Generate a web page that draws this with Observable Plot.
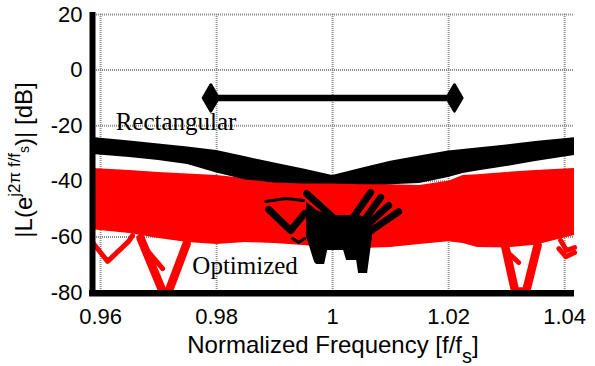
<!DOCTYPE html>
<html><head><meta charset="utf-8">
<script src="https://cdn.jsdelivr.net/npm/d3@7"></script>
<script src="https://cdn.jsdelivr.net/npm/@observablehq/plot@0.6"></script>
<style>html,body{margin:0;padding:0;background:#fff;}</style>
</head><body><div id="chart"></div>
<script>
// ---- axis ticks ----
const xTicks = [0.96, 0.98, 1.0, 1.02, 1.04];
const xTickLabels = ["0.96", "0.98", "1", "1.02", "1.04"];
const yTicks = [20, 0, -20, -40, -60, -80];
const yTickLabels = ["20", "0", "-20", "-40", "-60", "-80"];

// ---- band envelopes (normalized frequency, dB) ----
const freq       = [0.9586, 0.965, 0.97, 0.975, 0.98, 0.985, 0.99, 0.995, 1.0, 1.005, 1.01, 1.015, 1.02, 1.0225, 1.025, 1.03, 1.035, 1.0417];
const rectTop    = [-24.2, -25.5, -26.6, -27.7, -28.9, -31.2, -33.4, -35.6, -37.9, -35.3, -32.8, -30.9, -29.1, -28.6, -28.0, -26.9, -25.7, -24.3];
const rectBottom = [-30.4, -31.4, -32.5, -34.0, -37.0, -39.5, -40.6, -41.0, -41.0, -41.2, -41.2, -40.8, -38.6, -37.2, -36.3, -34.7, -32.9, -30.7];
const optTop     = [-35.4, -36.1, -36.8, -37.4, -37.9, -39.0, -40.0, -40.3, -40.5, -40.8, -41.2, -41.5, -40.0, -37.9, -37.6, -36.8, -36.1, -35.4];
const optBottom  = [-57.4, -58.8, -60.6, -62.0, -62.7, -62.0, -62.4, -63.1, -64.2, -64.2, -63.8, -62.7, -61.7, -62.4, -63.8, -64.0, -63.0, -59.5];

// ---- optimized: deep notches ----
const optWideId = ["d2","d2","d2","d2","d3","d3","d3","d3"];
const optWideF  = [0.9669, 0.97069, 0.97172, 0.97483, 1.02966, 1.03147, 1.03336, 1.03534];
const optWideDb = [-60.5, -79.6, -79.6, -62.5, -62.5, -79.6, -79.6, -63.0];
const optThinId = ["d1","d1","d1","d1","t1","t1","t2","t2","t3","t3","t3","t4","t4","t4"];
const optThinF  = [0.95862, 0.96121, 0.96483, 0.9655, 0.96776, 0.97069, 1.02983, 1.03207, 1.03931, 1.04034, 1.04172, 1.0390, 1.0402, 1.04172];
const optThinDb = [-62.0, -68.8, -61.6, -59.5, -64.2, -71.4, -64.9, -69.2, -61.3, -64.9, -63.8, -64.2, -67.1, -65.6];

// ---- rectangular: central nulls ----
const rectMassF      = [0.99552, 0.99690, 0.99724, 0.99862, 0.99914, 1.00017, 1.0019, 1.00241, 1.00414, 1.00448, 1.00603, 1.00690];
const rectMassTop    = [-47.5, -49.8, -50.5, -51.6, -51.6, -52.3, -52.3, -52.3, -52.3, -52.3, -53.0, -53.0];
const rectMassBottom = [-60.0, -69.2, -69.9, -69.9, -64.9, -64.9, -64.9, -68.5, -68.5, -73.2, -73.2, -59.5];
const rectArmId = ["a1","a1","a2","a2","a3","a3","a4","a4","a5","a5","v1","v1","v1"];
const rectArmF  = [0.99552, 1.00069, 1.00655, 1.00259, 1.00828, 1.00517, 1.00966, 1.00586, 1.01138, 1.00621, 0.98897, 0.99276, 0.99517];
const rectArmDb = [-44.4, -54.1, -44.0, -55.9, -45.8, -54.8, -48.7, -55.9, -50.9, -58.4, -50.1, -57.7, -51.6];
const rectThinId = ["arc","arc","arc","w","w","w"];
const rectThinF  = [0.98845, 0.99190, 0.99500, 0.99310, 0.99414, 0.99517];
const rectThinDb = [-47.3, -46.2, -46.9, -60.6, -62.0, -60.6];

// ---- marker bar and annotations ----
const markerF  = [0.979, 1.021];
const markerDb = [-10, -10];
const annotText = ["Rectangular", "Optimized"];
const annotF    = [0.96259, 0.97581];
const annotDb   = [-21.7, -73.2];

// ---- tables ----
const bands = freq.map((f, i) => ({f, rt: rectTop[i], rb: rectBottom[i], ot: optTop[i], ob: optBottom[i]}));
const rows = (ids, fs, ds) => fs.map((f, i) => ({id: ids[i], f, db: ds[i]}));
const optWide = rows(optWideId, optWideF, optWideDb);
const optThin = rows(optThinId, optThinF, optThinDb);
const rectArms = rows(rectArmId, rectArmF, rectArmDb);
const rectThin = rows(rectThinId, rectThinF, rectThinDb);
const rectMass = rectMassF.map((f, i) => ({f, t: rectMassTop[i], b: rectMassBottom[i]}));
const marker = markerF.map((f, i) => ({f, db: markerDb[i]}));
const annots = annotText.map((t, i) => ({t, f: annotF[i], db: annotDb[i]}));

const RED = "#ff0000";
const gridStyle = {stroke: "#8c8c8c", strokeOpacity: 1, strokeWidth: 2, strokeDasharray: "1,1"};
const sans = "'Liberation Sans', Arial, Helvetica, sans-serif";
const serif = "'Liberation Serif', 'Times New Roman', serif";

const chart = Plot.plot({
  width: 595, height: 366,
  marginLeft: 92, marginRight: 21, marginTop: 14, marginBottom: 74,
  x: {domain: [0.9586, 1.0417]},
  y: {domain: [-80, 20]},
  style: {fontFamily: sans, fontSize: "22px", background: "white", color: "black"},
  marks: [
    Plot.gridX(xTicks, gridStyle),
    Plot.gridY(yTicks.filter(v => v > -80), gridStyle),
    Plot.areaY(bands, {x: "f", y1: "ob", y2: "ot", fill: RED}),
    Plot.line(optWide, {x: "f", y: "db", z: "id", stroke: RED, strokeWidth: 8.5, strokeLinejoin: "round"}),
    Plot.line(optThin, {x: "f", y: "db", z: "id", stroke: RED, strokeWidth: 5, strokeLinejoin: "round"}),
    Plot.areaY(bands, {x: "f", y1: "rb", y2: "rt", fill: "black"}),
    Plot.areaY(rectMass, {x: "f", y1: "b", y2: "t", fill: "black"}),
    Plot.line(rectArms, {x: "f", y: "db", z: "id", stroke: "black", strokeWidth: 7}),
    Plot.line(rectThin, {x: "f", y: "db", z: "id", stroke: "black", strokeWidth: 3}),
    Plot.line(marker, {x: "f", y: "db", stroke: "black", strokeWidth: 6.5}),
    Plot.dot(marker, {x: "f", y: "db", symbol: "diamond", r: 8, fill: "black", stroke: "black", strokeWidth: 3, strokeLinejoin: "round"}),
    Plot.text(annots, {x: "f", y: "db", text: "t", textAnchor: "start", lineAnchor: "bottom", fontFamily: serif, fontSize: 25, fill: "black"}),
    Plot.ruleX([0.9586], {y1: -81, y2: 20.7, stroke: "black", strokeWidth: 6}),
    Plot.ruleY([-80.3], {x1: 0.9581, x2: 1.0417, stroke: "black", strokeWidth: 6.5}),
    Plot.axisX(xTicks, {anchor: "bottom", tickSize: 0, tickPadding: 16, fontSize: 22, label: null,
      tickFormat: d => xTickLabels[xTicks.indexOf(d)]}),
    Plot.axisY(yTicks, {anchor: "left", tickSize: 0, tickPadding: 10, fontSize: 22, label: null,
      tickFormat: d => yTickLabels[yTicks.indexOf(d)]})
  ]
});
document.getElementById("chart").appendChild(chart);

const svg = d3.select(chart);
// x label
const xl = svg.append("text").attr("x", 333).attr("y", 353).attr("text-anchor", "middle")
  .attr("font-family", sans).attr("font-size", 24).attr("fill", "black");
xl.append("tspan").text("Normalized Frequency [f/f");
xl.append("tspan").attr("dy", 10).attr("font-size", 20).text("s");
xl.append("tspan").attr("dy", -10).text("]");
// y label
const yl = svg.append("text").attr("transform", "translate(32,160) rotate(-90)").attr("text-anchor", "middle")
  .attr("font-family", sans).attr("font-size", 24).attr("fill", "black");
yl.append("tspan").text("|L(e");
yl.append("tspan").attr("dy", -12).attr("font-size", 17).text("j2\u03c0 f/f");
yl.append("tspan").attr("dy", 9).attr("font-size", 14).text("s");
yl.append("tspan").attr("dy", 3).text(")| [dB]");
</script></body></html>
